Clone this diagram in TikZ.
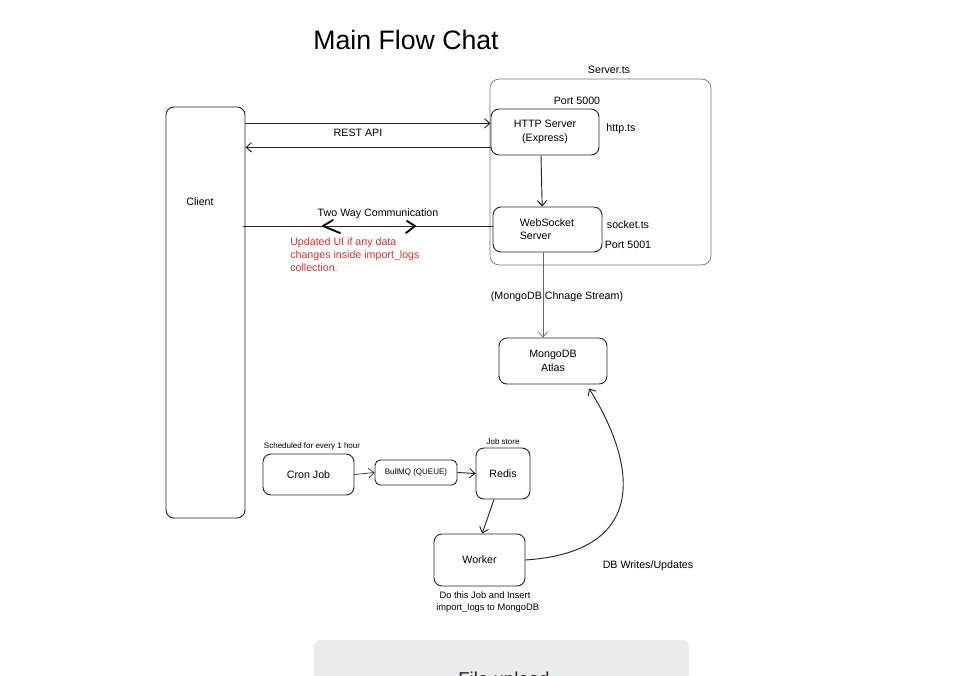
\documentclass[tikz,border=0pt]{standalone}
\usepackage{fontspec}
\setmainfont{Liberation Sans}
\usetikzlibrary{arrows.meta,calc}
\definecolor{redtxt}{HTML}{E03131}
\definecolor{panel}{HTML}{E9ECEF}
\tikzset{
  box/.style={draw=black!85, rounded corners=6pt, line width=0.7pt, inner sep=1pt, align=center, font=\fontsize{8}{10}\selectfont},
  lbl/.style={inner sep=0pt, align=center, font=\fontsize{8}{10}\selectfont},
  small/.style={inner sep=0pt, align=center, font=\fontsize{6}{7.5}\selectfont},
  conn/.style={draw=black!85, line width=0.7pt, -{Straight Barb[length=4pt,width=7pt]}},
  chev/.style={line width=1.4pt, line cap=round, line join=round}
}
\begin{document}
\begin{tikzpicture}[x=0.75pt,y=-0.75pt]
\useasboundingbox (0,0) rectangle (953,675);
\clip (0,0) rectangle (953,675);
\fill[white] (0,0) rectangle (953,675);

% title
\node[inner sep=0pt, font=\fontsize{20}{24}\selectfont] (title) at (406,40) {Main Flow Chat};

% client
\node[box, minimum width=59.25pt, minimum height=308.25pt] (client) at (205.5,312.5) {};
\node[lbl] (clientlbl) at (200,202) {Client};

% server container
\node[draw=black!55, rounded corners=7pt, line width=0.5pt, minimum width=165.75pt, minimum height=139.5pt] (server) at (600.5,172) {};
\node[lbl] (serverlbl) at (609,70) {Server.ts};
\node[lbl] (port1) at (577,101) {Port 5000};

\node[box, minimum width=81pt, minimum height=34.5pt] (http) at (545,132) {HTTP Server\\(Express)};
\node[lbl] (httpts) at (621,129) {http.ts};

\node[box, minimum width=81.75pt, minimum height=33.75pt, align=left] (ws) at (547.5,229.5) {WebSocket\\Server\hspace*{18pt}};
\node[lbl] (sockts) at (628,225) {socket.ts};
\node[lbl] (port2) at (628,245) {Port 5001};

% mongo
\node[box, minimum width=81pt, minimum height=34.5pt] (mongo) at (553,361) {MongoDB\\Atlas};

% bottom row
\node[box, minimum width=68.25pt, minimum height=30.75pt] (cron) at (308.5,474.5) {Cron Job};
\node[small] (sched) at (312,446) {Scheduled for every 1 hour};
\node[box, rounded corners=4pt, minimum width=61.5pt, minimum height=18.75pt, font=\fontsize{6}{7.5}\selectfont] (bull) at (416,472.5) {BullMQ (QUEUE)};
\node[box, minimum width=40.5pt, minimum height=38.25pt] (redis) at (503,473.5) {Redis};
\node[small] (jobstore) at (503,442) {Job store};
\node[box, minimum width=68.25pt, minimum height=39pt] (worker) at (479.5,560) {Worker};
\node[inner sep=0pt, align=center, font=\fontsize{7}{9}\selectfont] (workerlbl) at (485,602) {Do this Job and Insert\\\hspace*{4pt}import\_logs to MongoDB};

% REST arrows
\coordinate (h1) at ([yshift=6.5pt]http.west);
\coordinate (h2) at ([yshift=-11.5pt]http.west);
\draw[conn] (client.east |- h1) -- (h1);
\draw[conn] (h2) -- (client.east |- h2);
\node[lbl] (rest) at (358,133) {REST API};

% http -> ws
\draw[conn] ([xshift=-3pt]http.south) -- ([xshift=-4pt]ws.north);

% two way
\coordinate (w1) at ([yshift=2.5pt]ws.west);
\draw[draw=black!85, line width=0.7pt] ([xshift=-2pt]client.east |- w1) -- (w1);
\draw[chev] (333,220) -- (323,226) -- (340,233);
\draw[chev] (407,221) -- (415,226) -- (406,233);
\node[lbl] (twoway) at (378,214) {Two Way Communication};
\node[inner sep=0pt, anchor=north west, align=left, text=redtxt, font=\fontsize{8}{10}\selectfont] (updated) at (290,237) {Updated UI if any data\\changes inside import\_logs\\collection.};

% ws -> mongo
\coordinate (m1) at ([xshift=-7.5pt]mongo.north);
\draw[conn, draw=black!60, line width=0.5pt] (ws.south -| m1) -- (m1);
\node[lbl] (stream) at (557,297) {(MongoDB Chnage Stream)};

% bottom connectors
\draw[conn, line width=0.5pt] (cron.east) -- (bull.west);
\draw[conn] (bull.east) -- (redis.west);
\draw[conn] ([xshift=-6.75pt]redis.south) -- ([xshift=2pt]worker.north);

% worker -> mongo
\draw[conn] (worker.east) .. controls (645,552) and (640,470) .. ([xshift=27pt,yshift=-3pt]mongo.south);
\node[lbl] (dbw) at (648,566) {DB Writes/Updates};

% bottom panel
\fill[panel, rounded corners=5pt] (314,640) rectangle (689,720);
\node[inner sep=0pt, anchor=base west, font=\fontsize{14}{16}\selectfont, text=black!85] (file) at (458,685) {File upload};
\end{tikzpicture}
\end{document}
